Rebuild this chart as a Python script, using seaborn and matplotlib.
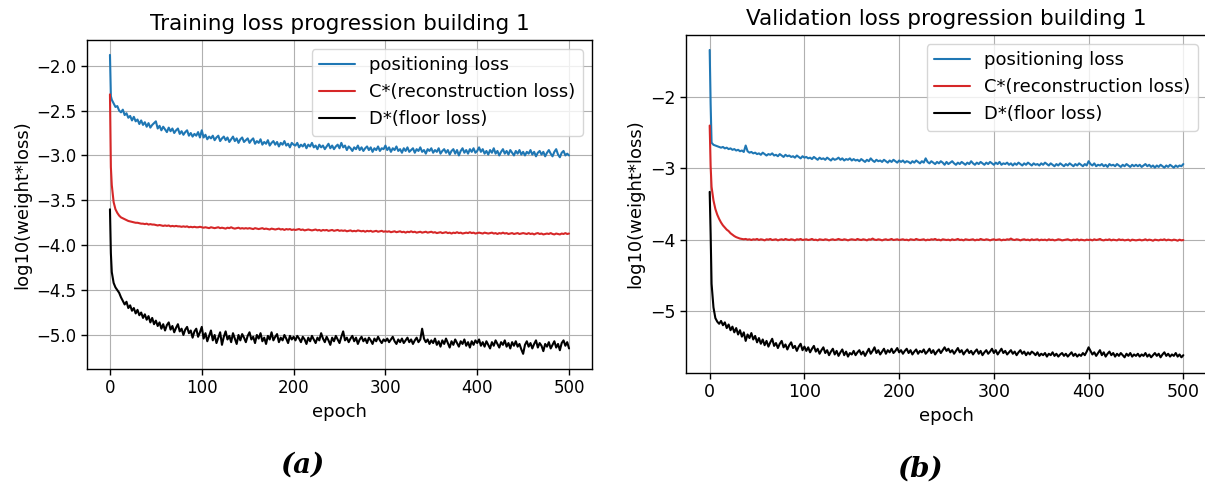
import matplotlib
matplotlib.use("Agg")
import matplotlib.pyplot as plt
import pandas as pd
import seaborn as sns

# ---- data: log10(weight*loss) at epochs 0, 1 and then every 2nd epoch ----
epochs = [0, 1] + list(range(2, 501, 2))

series_names = ["positioning loss", "C*(reconstruction loss)", "D*(floor loss)"]
series_colors = ["#1f77b4", "#d62728", "black"]

train_pos = [
    -1.88, -2.34,
    -2.38, -2.42, -2.46, -2.45, -2.50, -2.52, -2.49, -2.55, -2.53, -2.58, -2.56, -2.61, -2.57, -2.62, -2.60, -2.65, -2.61, -2.66, -2.63, -2.68, -2.64, -2.69, -2.66, -2.64, -2.62,
    -2.70, -2.67, -2.72, -2.68, -2.71, -2.74, -2.69, -2.73, -2.70, -2.75, -2.72, -2.70, -2.76, -2.73, -2.77, -2.74, -2.72, -2.78, -2.75, -2.79, -2.76, -2.78, -2.74, -2.80, -2.72,
    -2.80, -2.77, -2.82, -2.79, -2.81, -2.78, -2.83, -2.80, -2.78, -2.84, -2.81, -2.79, -2.83, -2.80, -2.85, -2.82, -2.79, -2.84, -2.81, -2.86, -2.82, -2.80, -2.85, -2.83, -2.81,
    -2.86, -2.83, -2.81, -2.87, -2.84, -2.86, -2.82, -2.88, -2.85, -2.87, -2.83, -2.89, -2.86, -2.84, -2.88, -2.85, -2.90, -2.86, -2.88, -2.84, -2.89, -2.87, -2.91, -2.86, -2.88,
    -2.89, -2.86, -2.91, -2.88, -2.90, -2.87, -2.92, -2.88, -2.90, -2.86, -2.91, -2.89, -2.93, -2.88, -2.91, -2.89, -2.93, -2.90, -2.87, -2.92, -2.89, -2.93, -2.90, -2.88, -2.92,
    -2.86, -2.91, -2.89, -2.94, -2.90, -2.92, -2.95, -2.91, -2.93, -2.89, -2.94, -2.91, -2.95, -2.92, -2.90, -2.94, -2.91, -2.96, -2.92, -2.94, -2.90, -2.95, -2.92, -2.93, -2.89,
    -2.94, -2.91, -2.96, -2.92, -2.94, -2.90, -2.95, -2.93, -2.97, -2.92, -2.95, -2.91, -2.96, -2.94, -2.92, -2.97, -2.93, -2.95, -2.91, -2.96, -2.94, -2.98, -2.93, -2.95, -2.92,
    -2.97, -2.94, -2.96, -2.92, -2.98, -2.95, -2.93, -2.97, -2.94, -2.99, -2.95, -2.93, -2.98, -2.94, -3.00, -2.95, -2.92, -2.97, -2.94, -2.98, -2.93, -2.96, -2.92, -2.97, -2.95,
    -2.91, -2.96, -2.93, -2.98, -2.95, -2.99, -2.94, -2.97, -2.92, -2.98, -2.95, -3.00, -2.96, -2.93, -2.98, -2.95, -2.99, -2.94, -2.97, -3.00, -2.95, -2.98, -2.94, -2.99, -2.96,
    -3.00, -2.96, -2.98, -2.94, -2.99, -2.96, -3.01, -2.97, -2.95, -2.99, -2.96, -3.01, -2.97, -2.94, -2.98, -3.01, -2.96, -2.93, -2.99, -3.02, -2.97, -2.95, -3.00, -2.98, -3.00,
]
train_rec = [
    -2.32, -3.13,
    -3.33, -3.52, -3.60, -3.64, -3.67, -3.69, -3.70, -3.71, -3.72, -3.73, -3.735, -3.74, -3.745, -3.75, -3.75, -3.755, -3.76, -3.76, -3.765, -3.76, -3.77, -3.765, -3.77, -3.77, -3.775,
    -3.78, -3.775, -3.78, -3.785, -3.78, -3.785, -3.78, -3.79, -3.785, -3.79, -3.785, -3.79, -3.79, -3.795, -3.79, -3.795, -3.79, -3.80, -3.795, -3.80, -3.795, -3.80, -3.80, -3.795, -3.80,
    -3.805, -3.80, -3.805, -3.81, -3.80, -3.805, -3.81, -3.805, -3.80, -3.81, -3.805, -3.81, -3.815, -3.805, -3.81, -3.80, -3.81, -3.815, -3.81, -3.805, -3.815, -3.81, -3.815, -3.81, -3.815,
    -3.81, -3.815, -3.82, -3.81, -3.815, -3.82, -3.815, -3.81, -3.82, -3.815, -3.82, -3.825, -3.815, -3.82, -3.825, -3.82, -3.815, -3.825, -3.82, -3.83, -3.82, -3.825, -3.82, -3.83, -3.825,
    -3.83, -3.825, -3.82, -3.83, -3.825, -3.835, -3.83, -3.825, -3.83, -3.835, -3.83, -3.825, -3.835, -3.83, -3.84, -3.83, -3.835, -3.83, -3.84, -3.835, -3.83, -3.84, -3.835, -3.83, -3.84,
    -3.835, -3.84, -3.835, -3.845, -3.84, -3.835, -3.845, -3.84, -3.845, -3.835, -3.84, -3.845, -3.84, -3.85, -3.84, -3.845, -3.84, -3.85, -3.845, -3.84, -3.85, -3.845, -3.84, -3.85, -3.845,
    -3.85, -3.845, -3.855, -3.85, -3.845, -3.855, -3.85, -3.845, -3.855, -3.85, -3.86, -3.85, -3.855, -3.845, -3.855, -3.85, -3.86, -3.855, -3.85, -3.86, -3.855, -3.85, -3.86, -3.855, -3.85,
    -3.86, -3.855, -3.865, -3.86, -3.855, -3.865, -3.86, -3.855, -3.865, -3.86, -3.87, -3.86, -3.865, -3.855, -3.865, -3.86, -3.87, -3.865, -3.86, -3.865, -3.855, -3.865, -3.86, -3.87, -3.865,
    -3.86, -3.865, -3.87, -3.86, -3.865, -3.87, -3.865, -3.86, -3.87, -3.865, -3.875, -3.865, -3.87, -3.86, -3.87, -3.865, -3.875, -3.87, -3.865, -3.875, -3.87, -3.865, -3.875, -3.87, -3.865,
    -3.87, -3.875, -3.865, -3.875, -3.87, -3.88, -3.87, -3.865, -3.875, -3.87, -3.88, -3.875, -3.87, -3.875, -3.865, -3.875, -3.88, -3.87, -3.875, -3.88, -3.87, -3.875, -3.865, -3.875, -3.87,
]
train_floor = [
    -3.60, -4.09,
    -4.30, -4.42, -4.47, -4.50, -4.53, -4.58, -4.62, -4.66, -4.63, -4.70, -4.67, -4.73, -4.70, -4.76, -4.72, -4.78, -4.75, -4.81, -4.77, -4.83, -4.79, -4.86, -4.81, -4.88, -4.84,
    -4.90, -4.86, -4.93, -4.88, -4.95, -4.89, -4.86, -4.94, -4.90, -4.97, -4.92, -4.88, -4.96, -4.93, -5.00, -4.94, -4.91, -4.98, -4.95, -5.03, -4.96, -4.93, -5.02, -4.97, -4.91,
    -5.04, -4.98, -5.07, -5.01, -4.95, -5.06, -5.00, -5.09, -5.03, -4.97, -5.11, -5.02, -4.96, -5.05, -5.01, -5.08, -4.98, -5.04, -5.10, -5.00, -5.06, -4.99, -5.03, -5.08, -5.01,
    -4.97, -5.05, -5.02, -5.09, -5.00, -5.04, -4.98, -5.07, -5.03, -5.10, -5.01, -5.05, -4.97, -5.06, -5.02, -4.99, -5.08, -5.03, -5.06, -5.00, -5.04, -5.09, -5.01, -5.05, -5.02,
    -5.06, -5.01, -5.04, -5.08, -5.02, -5.05, -5.10, -5.03, -5.07, -5.01, -5.05, -5.09, -5.03, -5.06, -4.98, -5.04, -5.08, -5.02, -5.06, -5.11, -5.03, -5.07, -5.01, -5.05, -5.09,
    -5.02, -4.96, -5.06, -5.03, -5.08, -5.04, -5.01, -5.07, -5.03, -5.10, -5.05, -5.02, -5.07, -5.04, -5.09, -5.03, -5.06, -5.10, -5.04, -5.07, -5.02, -5.06, -5.09, -5.05, -5.07,
    -5.04, -5.08, -5.05, -5.02, -5.07, -5.10, -5.05, -5.08, -5.04, -5.09, -5.06, -5.03, -5.08, -5.05, -5.10, -5.06, -5.03, -5.08, -5.05, -4.93, -5.04, -5.08, -5.05, -5.10, -5.06,
    -5.09, -5.04, -5.11, -5.07, -5.13, -5.06, -5.10, -5.04, -5.09, -5.14, -5.07, -5.11, -5.05, -5.09, -5.13, -5.07, -5.10, -5.05, -5.12, -5.08, -5.14, -5.07, -5.11, -5.06, -5.09,
    -5.05, -5.12, -5.08, -5.13, -5.07, -5.11, -5.15, -5.08, -5.12, -5.06, -5.10, -5.14, -5.08, -5.11, -5.06, -5.13, -5.09, -5.15, -5.08, -5.12, -5.07, -5.13, -5.10, -5.16, -5.21,
    -5.11, -5.07, -5.13, -5.09, -5.15, -5.10, -5.06, -5.14, -5.09, -5.12, -5.18, -5.10, -5.13, -5.08, -5.15, -5.11, -5.07, -5.14, -5.10, -5.17, -5.09, -5.06, -5.12, -5.08, -5.15,
]

val_pos = [
    -1.34, -2.10,
    -2.64, -2.67, -2.68, -2.69, -2.70, -2.71, -2.70, -2.72, -2.71, -2.73, -2.72, -2.74, -2.73, -2.75, -2.74, -2.76, -2.75, -2.77, -2.68, -2.76, -2.78, -2.77, -2.79, -2.78, -2.80,
    -2.79, -2.81, -2.78, -2.80, -2.82, -2.80, -2.81, -2.79, -2.82, -2.81, -2.83, -2.80, -2.82, -2.84, -2.81, -2.83, -2.82, -2.84, -2.83, -2.85, -2.82, -2.84, -2.86, -2.83, -2.85,
    -2.84, -2.86, -2.85, -2.87, -2.84, -2.86, -2.88, -2.85, -2.87, -2.86, -2.88, -2.85, -2.87, -2.89, -2.86, -2.88, -2.87, -2.85, -2.88, -2.86, -2.89, -2.87, -2.88, -2.86, -2.89,
    -2.87, -2.89, -2.88, -2.90, -2.87, -2.89, -2.91, -2.88, -2.90, -2.86, -2.89, -2.91, -2.88, -2.90, -2.89, -2.91, -2.88, -2.90, -2.92, -2.89, -2.91, -2.88, -2.90, -2.92, -2.89,
    -2.91, -2.89, -2.92, -2.90, -2.91, -2.93, -2.90, -2.92, -2.89, -2.91, -2.93, -2.90, -2.92, -2.86, -2.91, -2.93, -2.90, -2.92, -2.94, -2.91, -2.93, -2.90, -2.92, -2.95, -2.91,
    -2.94, -2.92, -2.90, -2.93, -2.95, -2.92, -2.94, -2.91, -2.93, -2.95, -2.92, -2.94, -2.90, -2.93, -2.95, -2.92, -2.94, -2.91, -2.93, -2.95, -2.92, -2.94, -2.91, -2.93, -2.95,
    -2.92, -2.94, -2.91, -2.95, -2.93, -2.94, -2.92, -2.95, -2.93, -2.96, -2.93, -2.95, -2.92, -2.94, -2.96, -2.93, -2.95, -2.92, -2.94, -2.96, -2.93, -2.95, -2.94, -2.96, -2.93,
    -2.95, -2.92, -2.94, -2.96, -2.93, -2.95, -2.97, -2.94, -2.96, -2.93, -2.95, -2.97, -2.94, -2.96, -2.93, -2.95, -2.97, -2.94, -2.96, -2.93, -2.95, -2.97, -2.94, -2.96, -2.90,
    -2.94, -2.96, -2.93, -2.97, -2.95, -2.96, -2.94, -2.97, -2.95, -2.98, -2.94, -2.96, -2.95, -2.97, -2.94, -2.96, -2.98, -2.95, -2.97, -2.94, -2.96, -2.98, -2.95, -2.97, -2.95,
    -2.97, -2.95, -2.98, -2.96, -2.94, -2.97, -2.95, -2.98, -2.96, -2.99, -2.96, -2.98, -2.95, -2.97, -2.99, -2.96, -2.98, -2.95, -2.97, -2.99, -2.96, -2.98, -2.96, -2.97, -2.94,
]
val_rec = [
    -2.40, -2.97,
    -3.26, -3.45, -3.57, -3.65, -3.71, -3.76, -3.80, -3.83, -3.86, -3.88, -3.91, -3.93, -3.95, -3.965, -3.975, -3.985, -3.99, -3.995, -3.99, -4.00, -3.995, -4.005, -3.995, -4.00, -3.99,
    -4.005, -3.995, -4.00, -4.01, -3.995, -4.00, -3.99, -4.005, -4.00, -3.995, -4.01, -4.00, -3.995, -4.005, -3.99, -4.00, -4.005, -3.995, -4.00, -4.01, -3.995, -4.00, -3.99, -4.005, -4.00,
    -3.995, -4.005, -4.00, -3.99, -4.005, -4.00, -4.01, -3.995, -4.00, -4.005, -3.995, -4.00, -4.01, -4.00, -3.995, -4.005, -4.00, -3.99, -4.00, -4.005, -3.995, -4.00, -4.01, -4.00, -3.995,
    -4.00, -4.005, -3.99, -4.00, -4.005, -3.995, -4.00, -4.01, -3.995, -4.00, -3.985, -4.00, -4.005, -3.995, -4.00, -4.01, -4.00, -3.995, -4.005, -4.00, -3.99, -4.005, -4.00, -3.995, -4.005,
    -4.00, -3.995, -4.005, -4.00, -4.01, -3.995, -4.00, -4.005, -3.99, -4.00, -4.005, -4.00, -3.995, -4.01, -4.00, -4.005, -3.995, -4.00, -3.99, -4.005, -4.00, -4.01, -3.995, -4.00, -4.005,
    -4.00, -4.01, -3.995, -4.005, -4.00, -3.99, -4.005, -4.00, -4.01, -3.995, -4.00, -4.005, -4.00, -3.995, -4.01, -4.00, -4.005, -3.99, -4.00, -4.005, -3.995, -4.00, -4.01, -4.00, -3.995,
    -4.005, -4.00, -3.995, -4.01, -4.00, -4.005, -3.995, -4.00, -3.985, -4.00, -4.005, -3.995, -4.00, -4.01, -4.00, -3.995, -4.005, -4.00, -4.01, -3.995, -4.005, -4.00, -3.995, -4.01, -4.00,
    -4.005, -4.00, -4.01, -3.995, -4.005, -4.00, -4.01, -4.005, -3.995, -4.00, -4.01, -4.005, -4.00, -3.995, -4.005, -4.01, -4.00, -4.005, -3.995, -4.01, -4.00, -4.005, -4.01, -4.00, -4.005,
    -4.00, -4.01, -3.995, -4.005, -4.00, -3.99, -4.005, -4.01, -4.00, -4.005, -3.995, -4.01, -4.00, -4.005, -4.01, -3.995, -4.005, -4.00, -4.01, -4.005, -4.00, -4.015, -4.00, -4.005, -4.01,
    -4.005, -4.00, -4.01, -4.005, -3.995, -4.01, -4.00, -4.005, -4.015, -4.00, -4.005, -4.01, -4.00, -4.005, -3.995, -4.01, -4.00, -4.005, -4.01, -4.00, -4.005, -4.015, -4.00, -4.01, -4.005,
]
val_floor = [
    -3.33, -3.91,
    -4.62, -4.95, -5.10, -5.15, -5.18, -5.14, -5.20, -5.16, -5.24, -5.19, -5.27, -5.22, -5.30, -5.24, -5.33, -5.27, -5.36, -5.30, -5.42, -5.33, -5.38, -5.31, -5.40, -5.35, -5.44,
    -5.38, -5.46, -5.40, -5.48, -5.42, -5.50, -5.44, -5.39, -5.49, -5.45, -5.52, -5.46, -5.42, -5.51, -5.47, -5.54, -5.48, -5.44, -5.52, -5.49, -5.56, -5.50, -5.46, -5.55, -5.50,
    -5.56, -5.51, -5.58, -5.53, -5.49, -5.57, -5.53, -5.60, -5.55, -5.51, -5.59, -5.55, -5.62, -5.57, -5.53, -5.61, -5.56, -5.63, -5.58, -5.54, -5.62, -5.57, -5.64, -5.59, -5.61,
    -5.56, -5.62, -5.58, -5.55, -5.61, -5.57, -5.63, -5.58, -5.53, -5.60, -5.56, -5.51, -5.59, -5.55, -5.61, -5.57, -5.53, -5.60, -5.55, -5.58, -5.53, -5.59, -5.56, -5.52, -5.58,
    -5.55, -5.60, -5.56, -5.53, -5.59, -5.55, -5.61, -5.57, -5.54, -5.60, -5.56, -5.58, -5.54, -5.60, -5.57, -5.53, -5.59, -5.55, -5.61, -5.57, -5.54, -5.59, -5.55, -5.51, -5.56,
    -5.53, -5.58, -5.55, -5.60, -5.56, -5.52, -5.58, -5.55, -5.61, -5.57, -5.54, -5.59, -5.56, -5.61, -5.57, -5.54, -5.60, -5.56, -5.62, -5.58, -5.55, -5.60, -5.57, -5.53, -5.59,
    -5.55, -5.61, -5.57, -5.53, -5.59, -5.56, -5.61, -5.58, -5.55, -5.60, -5.57, -5.62, -5.58, -5.55, -5.60, -5.57, -5.62, -5.58, -5.61, -5.57, -5.59, -5.62, -5.58, -5.63, -5.60,
    -5.62, -5.59, -5.64, -5.60, -5.62, -5.58, -5.63, -5.60, -5.64, -5.61, -5.59, -5.63, -5.60, -5.64, -5.61, -5.58, -5.63, -5.60, -5.64, -5.61, -5.63, -5.59, -5.62, -5.57, -5.51,
    -5.56, -5.61, -5.58, -5.63, -5.59, -5.55, -5.62, -5.58, -5.64, -5.60, -5.57, -5.62, -5.59, -5.64, -5.60, -5.63, -5.59, -5.62, -5.65, -5.60, -5.63, -5.59, -5.64, -5.61, -5.63,
    -5.60, -5.64, -5.61, -5.63, -5.59, -5.64, -5.61, -5.65, -5.62, -5.59, -5.63, -5.60, -5.65, -5.61, -5.58, -5.63, -5.60, -5.64, -5.61, -5.63, -5.59, -5.64, -5.61, -5.65, -5.62,
]

panel_titles = ["Training loss progression building 1",
                "Validation loss progression building 1"]
panel_tags = ["(a)", "(b)"]

for _vals in (train_pos, train_rec, train_floor, val_pos, val_rec, val_floor):
    assert len(_vals) == len(epochs), len(_vals)


def long_frame(pos, rec, floor):
    frames = []
    for name, vals in zip(series_names, [pos, rec, floor]):
        frames.append(pd.DataFrame({"epoch": epochs, "value": vals, "series": name}))
    return pd.concat(frames, ignore_index=True)


sns.set_theme(style="ticks", rc={
    "axes.grid": True,
    "grid.color": "#b0b0b0",
    "grid.linewidth": 0.8,
    "axes.edgecolor": "black",
    "axes.linewidth": 1.0,
    "xtick.color": "black",
    "ytick.color": "black",
    "text.color": "black",
    "axes.labelcolor": "black",
})
plt.rcParams["font.family"] = ["DejaVu Sans"]

W, H = 1205, 482
fig = plt.figure(figsize=(W / 100, H / 100), dpi=100)


def px_axes(left, top, right, bottom):
    return fig.add_axes([left / W, 1 - bottom / H, (right - left) / W, (bottom - top) / H])


ax1 = px_axes(87, 40, 592, 369)
ax2 = px_axes(686, 35, 1207, 373)

palette = dict(zip(series_names, series_colors))
datasets = [long_frame(train_pos, train_rec, train_floor),
            long_frame(val_pos, val_rec, val_floor)]
ylims = [(-5.379, -1.714), (-5.87, -1.13)]
tick_sizes = [12, 12.5]

for ax, df, title, ylim, ts in zip([ax1, ax2], datasets, panel_titles, ylims, tick_sizes):
    sns.lineplot(data=df, x="epoch", y="value", hue="series", hue_order=series_names,
                 palette=palette, linewidth=1.5, ax=ax)
    ax.set_xlim(-25, 525)
    ax.set_ylim(*ylim)
    ax.set_xticks([0, 100, 200, 300, 400, 500])
    ax.set_title(title, fontsize=15.5, pad=7)
    ax.set_xlabel("epoch", fontsize=13)
    ax.set_ylabel("log10(weight*loss)", fontsize=13)
    ax.tick_params(labelsize=ts, length=4, width=1)
    ax.grid(True, color="#b0b0b0", linewidth=0.8)
    for s in ax.spines.values():
        s.set_visible(True)
        s.set_color("black")
    ax.legend(loc="upper right", fontsize=13, title=None, framealpha=0.8,
              edgecolor="#cccccc", fancybox=True)

ax2.set_yticks([-5, -4, -3, -2])

fig.text(302 / W, 1 - 465 / H, panel_tags[0], ha="center", va="center",
         family="DejaVu Serif", style="italic", weight="bold", fontsize=20)
fig.text(920 / W, 1 - 469 / H, panel_tags[1], ha="center", va="center",
         family="DejaVu Serif", style="italic", weight="bold", fontsize=20)

fig.savefig("out.png", dpi=100)
